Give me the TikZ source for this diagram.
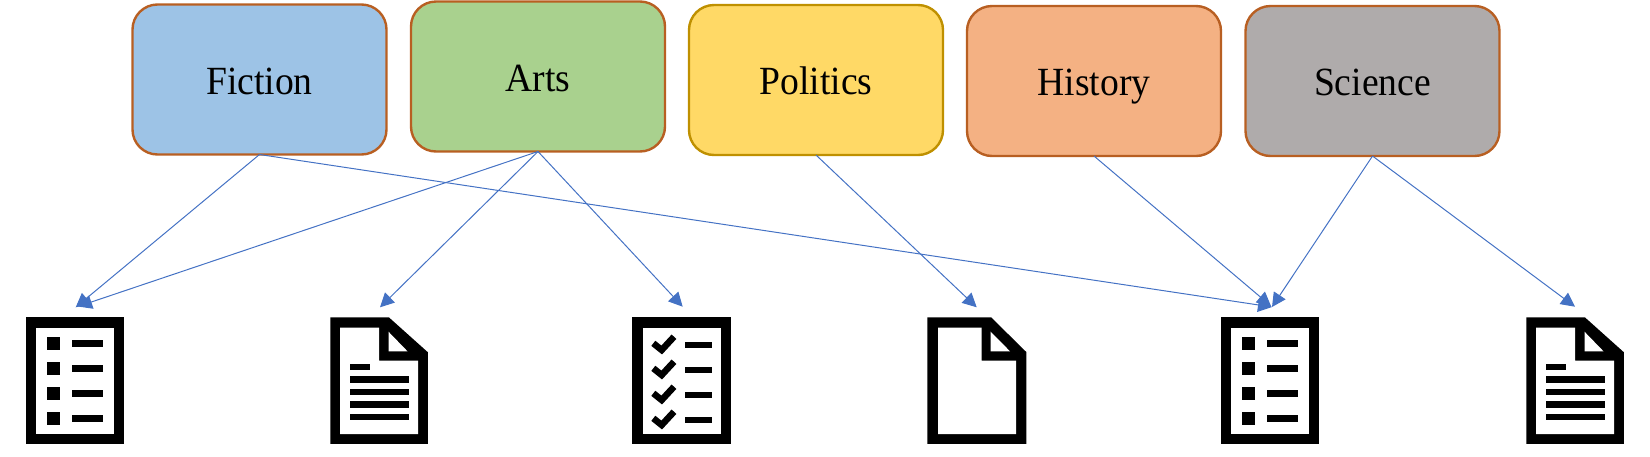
\documentclass[tikz,border=0pt]{standalone}
\usepackage{fontspec}
\setmainfont[FakeStretch=0.94]{Liberation Serif}
\usetikzlibrary{arrows.meta}
\definecolor{fictionfill}{HTML}{9DC3E6}
\definecolor{artsfill}{HTML}{A9D18E}
\definecolor{politicsfill}{HTML}{FFD966}
\definecolor{historyfill}{HTML}{F4B183}
\definecolor{sciencefill}{HTML}{AFABAB}
\definecolor{boxline}{HTML}{B85F22}
\definecolor{politicsline}{HTML}{BF9000}
\definecolor{linkblue}{HTML}{4472C4}
\tikzset{
  topic/.style={draw=boxline, line width=2.4pt, rounded corners=25pt, minimum width=254pt, minimum height=150pt,
    inner sep=0pt, outer sep=0pt, text height=29pt, text depth=0pt, font=\fontsize{40}{48}\selectfont},
  link/.style={draw=linkblue, line width=1pt, -{Triangle[length=14pt, width=14pt]}},
  iconedge/.style={fill=black, draw=black, line width=1.5pt},
  listicon/.pic={
    \path[iconedge] (0, 0) rectangle (96, 125);
    \fill[white] (9, 9.5) rectangle (87, 116);
    \foreach \y in {25.3, 50.3, 75.3, 100.3} {
      \fill[black] (20, \y-6.25) rectangle (32.5, \y+6.25);
      \fill[black] (45, \y-3.2) rectangle (76, \y+3.2);
    }
  },
  checkicon/.pic={
    \path[iconedge] (0, 0) rectangle (97, 125);
    \fill[white] (10, 9.5) rectangle (87.5, 116);
    \foreach \y in {27, 52, 77, 102} {
      \draw[black, line width=6.5pt] (20.3, \y-1.7) -- (28.7, \y+5) -- (41, \y-8.3);
      \fill[black] (52, \y-3.2) rectangle (78.7, \y+3.2);
    }
  },
  blankicon/.pic={
    \path[iconedge] (0, 0) -- (62.7, 0) -- (97.7, 34.5) -- (97.7, 125) -- (0, 125) -- cycle;
    \fill[white] (10, 9.5) -- (53.7, 9.5) -- (53.7, 42.7) -- (88, 42.7) -- (88, 116) -- (10, 116) -- cycle;
    \fill[white] (62.7, 13.7) -- (82, 33.3) -- (62.7, 33.3) -- cycle;
  },
  texticon/.pic={
    \path[iconedge] (0, 0) -- (57.5, 0) -- (96, 34.5) -- (96, 125) -- (0, 125) -- cycle;
    \fill[white] (9, 9.5) -- (48, 9.5) -- (48, 42.7) -- (87, 42.7) -- (87, 116) -- (9, 116) -- cycle;
    \fill[white] (57.5, 13.7) -- (76.5, 33.3) -- (57.5, 33.3) -- cycle;
    \fill[black] (18.5, 45.8) rectangle (38.7, 52.2);
    \foreach \y in {61.3, 73.8, 86.3, 98.7} {
      \fill[black] (18.5, \y-3.2) rectangle (77.7, \y+3.2);
    }
  }
}
\begin{document}
\begin{tikzpicture}[x=1pt, y=-1pt]
  \useasboundingbox (0, 0) rectangle (1650, 456);
  \node (fiction) at (259.5, 79.5) [topic, fill=fictionfill] {Fiction};
  \node (arts) at (538, 76.5) [topic, fill=artsfill] {Arts};
  \node (politics) at (816, 80) [topic, fill=politicsfill, draw=politicsline] {Politics};
  \node (history) at (1094, 81) [topic, fill=historyfill] {History};
  \node (science) at (1372.5, 81) [topic, fill=sciencefill] {Science};
  \pic (listone) at (27, 318) {listicon};
  \pic (textone) at (331, 318) {texticon};
  \pic (checklist) at (633, 318) {checkicon};
  \pic (blankdoc) at (928, 318) {blankicon};
  \pic (listtwo) at (1222, 318) {listicon};
  \pic (texttwo) at (1527, 318) {texticon};
  \coordinate (tipa) at (75.7, 307.3);
  \coordinate (tipb) at (78, 306.5);
  \coordinate (tipc) at (380, 307.3);
  \coordinate (tipd) at (682.7, 306.7);
  \coordinate (tipe) at (976.7, 307.3);
  \coordinate (tipf) at (1272, 307);
  \coordinate (tipg) at (1271, 306);
  \coordinate (tiph) at (1272, 307);
  \coordinate (tipi) at (1575, 306.7);
  \draw[link] (fiction.south) -- (tipa);
  \draw[link] (fiction.south) -- (tipf);
  \draw[link] (arts.south) -- (tipb);
  \draw[link] (arts.south) -- (tipc);
  \draw[link] (arts.south) -- (tipd);
  \draw[link] (politics.south) -- (tipe);
  \draw[link] (history.south) -- (tipg);
  \draw[link] (science.south) -- (tiph);
  \draw[link] (science.south) -- (tipi);
\end{tikzpicture}
\end{document}
